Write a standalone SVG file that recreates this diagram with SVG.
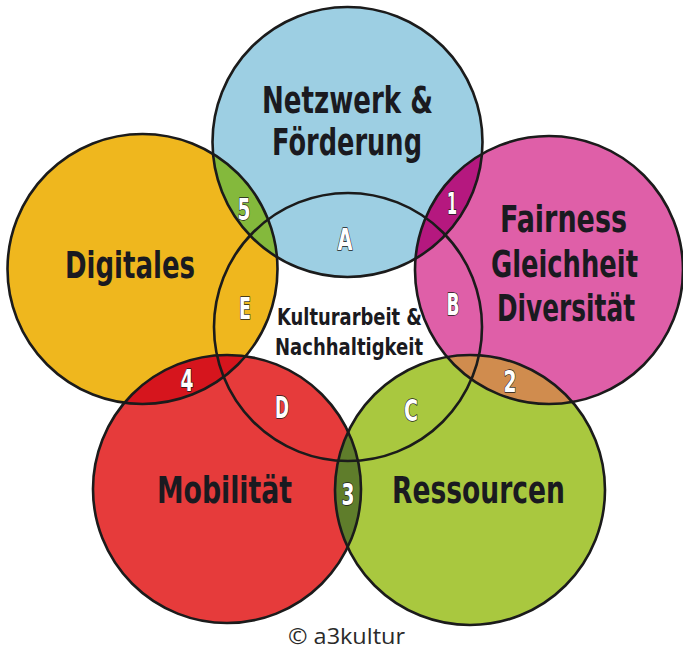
<svg xmlns="http://www.w3.org/2000/svg" xmlns:xlink="http://www.w3.org/1999/xlink" width="683" height="649" viewBox="0 0 683 649">
  <style>
    .ring { fill: none; stroke: #1b1b1b; stroke-width: 2.6; }
    .title { font-family: "Liberation Sans Narrow", "DejaVu Sans Condensed", "Liberation Sans", sans-serif; font-weight: bold; font-size: 38px; fill: #1a1a20; text-anchor: middle; }
    .core { font-family: "Liberation Sans Narrow", "DejaVu Sans Condensed", "Liberation Sans", sans-serif; font-weight: bold; font-size: 23px; fill: #1a1a20; text-anchor: middle; }
    .mark { font-family: "Liberation Sans Narrow", "DejaVu Sans Condensed", "Liberation Sans", sans-serif; font-weight: bold; font-size: 31px; fill: #ffffff; stroke: #1a1a1a; stroke-width: 1.4; paint-order: stroke; stroke-linejoin: round; text-anchor: middle; }
    .credit { font-family: "Open Sans", "Noto Sans", "Liberation Sans", sans-serif; font-size: 21px; fill: #2a2a2a; text-anchor: middle; }
  </style>
  <defs>
    <!-- circle geometry, shared by fills, overlaps and outlines -->
    <circle id="c-netzwerk" cx="347.5" cy="142" r="135"/>
    <circle id="c-digitales" cx="142.5" cy="269" r="135"/>
    <circle id="c-fairness" cx="549" cy="270" r="134"/>
    <circle id="c-mobilitaet" cx="227" cy="489" r="134"/>
    <circle id="c-ressourcen" cx="470" cy="490" r="135"/>
    <circle id="c-kultur" cx="348" cy="327" r="134"/>
    <clipPath id="clip-netzwerk"><use xlink:href="#c-netzwerk"/></clipPath>
    <clipPath id="clip-digitales"><use xlink:href="#c-digitales"/></clipPath>
    <clipPath id="clip-fairness"><use xlink:href="#c-fairness"/></clipPath>
    <clipPath id="clip-mobilitaet"><use xlink:href="#c-mobilitaet"/></clipPath>
  </defs>

  <rect width="683" height="649" fill="#ffffff"/>

  <!-- coloured areas of the five themes -->
  <g id="areas">
    <use xlink:href="#c-netzwerk" fill="#9dcfe3"/>
    <use xlink:href="#c-digitales" fill="#efb71e"/>
    <use xlink:href="#c-fairness" fill="#df5fa8"/>
    <use xlink:href="#c-mobilitaet" fill="#e63b3b"/>
    <use xlink:href="#c-ressourcen" fill="#a9c83f"/>
  </g>

  <!-- pairwise overlaps 1 to 5 -->
  <g id="overlaps">
    <use xlink:href="#c-fairness" fill="#b5187f" clip-path="url(#clip-netzwerk)"/>
    <use xlink:href="#c-ressourcen" fill="#d08c4e" clip-path="url(#clip-fairness)"/>
    <use xlink:href="#c-ressourcen" fill="#5f7d2b" clip-path="url(#clip-mobilitaet)"/>
    <use xlink:href="#c-mobilitaet" fill="#d6151d" clip-path="url(#clip-digitales)"/>
    <use xlink:href="#c-netzwerk" fill="#84b93c" clip-path="url(#clip-digitales)"/>
  </g>

  <!-- outlines, including the central circle -->
  <g id="outlines">
    <use xlink:href="#c-netzwerk" class="ring"/>
    <use xlink:href="#c-digitales" class="ring"/>
    <use xlink:href="#c-fairness" class="ring"/>
    <use xlink:href="#c-mobilitaet" class="ring"/>
    <use xlink:href="#c-ressourcen" class="ring"/>
    <use xlink:href="#c-kultur" class="ring"/>
  </g>

  <g id="node-netzwerk">
    <text class="title" x="347.5" y="113" textLength="171" lengthAdjust="spacingAndGlyphs">Netzwerk &amp;</text>
    <text class="title" x="347" y="155" textLength="150" lengthAdjust="spacingAndGlyphs">Förderung</text>
  </g>
  <g id="node-digitales">
    <text class="title" x="130" y="278" textLength="130" lengthAdjust="spacingAndGlyphs">Digitales</text>
  </g>
  <g id="node-fairness">
    <text class="title" x="563.5" y="232" textLength="127" lengthAdjust="spacingAndGlyphs">Fairness</text>
    <text class="title" x="564.5" y="277" textLength="147" lengthAdjust="spacingAndGlyphs">Gleichheit</text>
    <text class="title" x="566" y="321" textLength="138" lengthAdjust="spacingAndGlyphs">Diversität</text>
  </g>
  <g id="node-mobilitaet">
    <text class="title" x="224.5" y="503" textLength="135" lengthAdjust="spacingAndGlyphs">Mobilität</text>
  </g>
  <g id="node-ressourcen">
    <text class="title" x="478.5" y="503" textLength="173" lengthAdjust="spacingAndGlyphs">Ressourcen</text>
  </g>
  <g id="node-kultur">
    <text class="core" x="349.5" y="325" textLength="145" lengthAdjust="spacingAndGlyphs">Kulturarbeit &amp;</text>
    <text class="core" x="349" y="355" textLength="148" lengthAdjust="spacingAndGlyphs">Nachhaltigkeit</text>
  </g>

  <!-- region markers -->
  <g id="markers">
    <text class="mark" x="345" y="250" textLength="15" lengthAdjust="spacingAndGlyphs">A</text>
    <text class="mark" x="453" y="315" textLength="13" lengthAdjust="spacingAndGlyphs">B</text>
    <text class="mark" x="411" y="421" textLength="14" lengthAdjust="spacingAndGlyphs">C</text>
    <text class="mark" x="282" y="418" textLength="14" lengthAdjust="spacingAndGlyphs">D</text>
    <text class="mark" x="245" y="319" textLength="12" lengthAdjust="spacingAndGlyphs">E</text>
    <text class="mark" x="452" y="214" textLength="10" lengthAdjust="spacingAndGlyphs">1</text>
    <text class="mark" x="510" y="392" textLength="13" lengthAdjust="spacingAndGlyphs">2</text>
    <text class="mark" x="348" y="505" textLength="13" lengthAdjust="spacingAndGlyphs">3</text>
    <text class="mark" x="187" y="391" textLength="13" lengthAdjust="spacingAndGlyphs">4</text>
    <text class="mark" x="244" y="220" textLength="13" lengthAdjust="spacingAndGlyphs">5</text>
  </g>

  <text class="credit" x="346.5" y="644" textLength="117" lengthAdjust="spacingAndGlyphs">© a3kultur</text>
</svg>
